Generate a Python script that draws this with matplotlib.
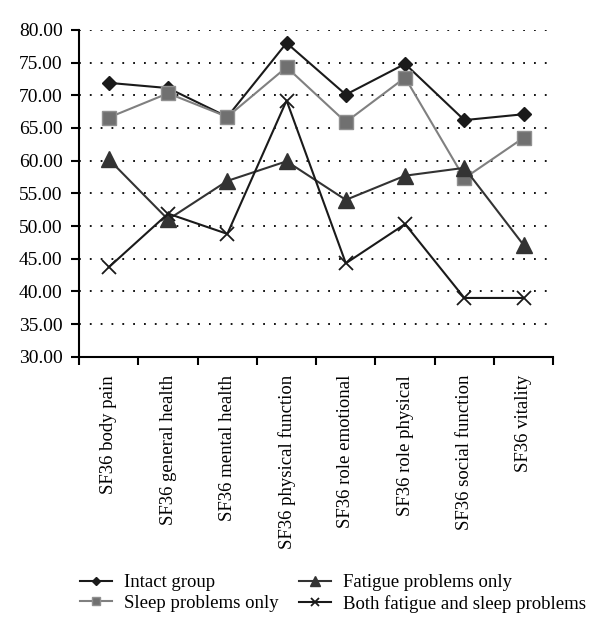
import numpy as np
import matplotlib
matplotlib.use("Agg")
import matplotlib.pyplot as plt

categories = ["SF36 body pain", "SF36 general health", "SF36 mental health",
              "SF36 physical function", "SF36 role emotional", "SF36 role physical",
              "SF36 social function", "SF36 vitality"]
intact = [71.9, 71.1, 66.7, 78.0, 70.1, 74.8, 66.2, 67.1]
sleep_only = [66.6, 70.3, 66.7, 74.3, 65.9, 72.7, 57.3, 63.5]
fatigue_only = [60.2, 51.0, 56.9, 59.9, 54.0, 57.7, 58.9, 47.1]
both = [43.7, 51.9, 48.8, 69.2, 44.3, 50.3, 39.0, 39.0]
yticks = np.arange(30, 80.1, 5)

plt.rcParams['font.family'] = ['Liberation Serif', 'DejaVu Serif']

fig = plt.figure(figsize=(6.0, 6.36), dpi=100)
ax = fig.add_axes([0.132, 0.439, 0.79, 0.514])
x = np.arange(len(categories))

l1, = ax.plot(x, intact, color='#1a1a1a', marker='D', markersize=7, lw=1.5, label='Intact group')
l2, = ax.plot(x, sleep_only, color='#808080', marker='s', markersize=10, lw=1.5,
              markerfacecolor='#707070', markeredgecolor='#909090', label='Sleep problems only')
l3, = ax.plot(x, fatigue_only, color='#333333', marker='^', markersize=11, lw=1.5, label='Fatigue problems only')
l4, = ax.plot(x, both, color='#1a1a1a', marker='x', markersize=10, mew=1.3, lw=1.5,
              label='Both fatigue and sleep problems')

ax.set_xlim(-0.5, len(categories) - 0.5)
ax.set_ylim(30, 80)
ax.set_yticks(yticks)
ax.set_yticklabels([f"{v:.2f}" for v in yticks], fontsize=14)
ax.set_xticks(x)
ax.set_xticklabels(categories, rotation=90, fontsize=13.5)
ax.set_xticks(np.arange(-0.5, len(categories)), minor=True)
ax.tick_params(axis='x', which='major', length=0, pad=13)
ax.tick_params(axis='x', which='minor', length=6, width=1.5, direction='out')
ax.tick_params(axis='y', length=6, width=1.5, direction='out', pad=6)

for v in yticks[1:]:
    ax.axhline(v, color='black', lw=1.3, ls=(0, (1, 5)), zorder=0)

for s in ['top', 'right']:
    ax.spines[s].set_visible(False)
for s in ['left', 'bottom']:
    ax.spines[s].set_linewidth(1.5)

fig.legend(handles=[l1, l2, l3, l4], ncol=2, loc='lower left', bbox_to_anchor=(0.105, 0.01),
           frameon=False, fontsize=13.5, handlelength=1.7, markerscale=0.6,
           columnspacing=1.1, labelspacing=0.2, handletextpad=0.65)

fig.savefig("out.png", dpi=100)
